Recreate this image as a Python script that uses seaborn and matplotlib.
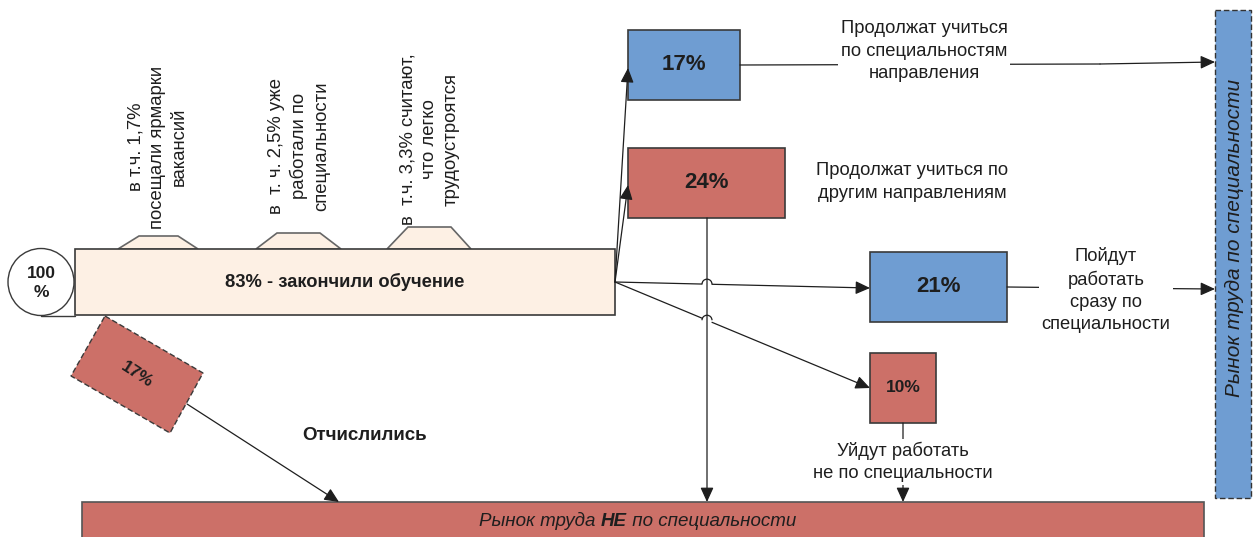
import matplotlib
matplotlib.use("Agg")
import matplotlib.pyplot as plt
import seaborn as sns
from matplotlib.patches import Rectangle, Polygon, Ellipse, Arc

# values (shares of students, %)
start_share = 100
finished_share = 83
dropped_share = 17
study_same_share = 17
study_other_share = 24
work_spec_share = 21
work_other_share = 10

finished_notes = [
    "в т.ч. 1,7%\nпосещали ярмарки\nвакансий",
    "в  т. ч. 2,5% уже\nработали по\nспециальности",
    "в  т.ч. 3,3% считают,\nчто легко\nтрудоустроятся",
]
flow_labels = [
    "Продолжат учиться\nпо специальностям\nнаправления",
    "Продолжат учиться по\nдругим направлениям",
    "Пойдут\nработать\nсразу по\nспециальности",
    "Уйдут работать\nне по специальности",
]
dropped_label = "Отчислились"
market_spec = "Рынок труда по специальности"
market_other = ["Рынок труда ", "НЕ", " по специальности"]

sns.set_theme(style="white")
plt.rcParams["font.family"] = ["Liberation Sans", "DejaVu Sans"]

blue = "#6f9dd2"
red = "#cc7068"
peach = "#fdf0e4"
edge = "#3a3a3a"
ink = "#1e1e1e"

fig = plt.figure(figsize=(12.53, 5.37), dpi=100)
ax = fig.add_axes([0, 0, 1, 1])
ax.set_xlim(0, 1253)
ax.set_ylim(537, 0)
ax.axis("off")

head = "-|>,head_length=0.55,head_width=0.25"


def box(x0, y0, x1, y1, color, text=None, size=16, ls="-", lw=1.2):
    ax.add_patch(Rectangle((x0, y0), x1 - x0, y1 - y0, facecolor=color,
                           edgecolor=edge, lw=lw, ls=ls, zorder=2))
    if text is not None:
        ax.text((x0 + x1) / 2, (y0 + y1) / 2, text, ha="center", va="center",
                fontsize=size, fontweight="bold", color=ink, zorder=3)


def arrow(p0, p1):
    ax.annotate("", xy=p1, xytext=p0, zorder=4,
                arrowprops=dict(arrowstyle=head, color=ink, lw=0.9,
                                mutation_scale=16, shrinkA=0, shrinkB=0))


def hop_arrow(p0, p1, xc, r=5):
    # line with a small hop where it crosses the vertical line at xc
    t = (xc - p0[0]) / (p1[0] - p0[0])
    yc = p0[1] + t * (p1[1] - p0[1])
    dy = (p1[1] - p0[1]) / (p1[0] - p0[0]) * r
    ax.plot([p0[0], xc - r], [p0[1], yc - dy], color=ink, lw=0.9, zorder=4)
    ax.add_patch(Arc((xc, yc), 2 * r, 2 * r, theta1=180, theta2=360,
                     color=ink, lw=0.9, zorder=4))
    arrow((xc + r, yc + dy), p1)


def label(x, y, text, size=13.2, spacing=1.4, **kw):
    ax.text(x, y, text, ha="center", va="center", fontsize=size, color=ink,
            linespacing=spacing, zorder=5, **kw)


white = dict(facecolor="white", edgecolor="none", pad=2)

# start circle and the "finished" bar with its notes
for (bx0, bx1, tx0, tx1, ty) in [(118, 198, 139, 178, 236),
                                  (256, 341, 277, 320, 233),
                                  (387, 471, 408, 451, 227)]:
    ax.add_patch(Polygon([(bx0, 249), (tx0, ty), (tx1, ty), (bx1, 249)],
                         closed=True, facecolor=peach, edgecolor="#666666",
                         lw=1.2, zorder=1))
box(75, 249, 615, 315, peach, f"{finished_share}% - закончили обучение", size=13.2)
ax.plot([41, 75], [315.5, 315.5], color=edge, lw=1.0, zorder=1)
ax.add_patch(Ellipse((41, 282), 66, 67, facecolor="white", edgecolor=edge,
                     lw=1.0, zorder=2))
label(41, 283, f"{start_share}\n%", size=12.5, spacing=1.35, fontweight="bold")

for x, y, note in zip([158, 299, 430], [147, 146, 139], finished_notes):
    label(x, y, note, size=13.3, spacing=1.35, rotation=90)

# destination boxes
box(628, 30, 740, 100, blue, f"{study_same_share}%")
box(628, 148, 785, 218, red, f"{study_other_share}%")
box(870, 252, 1007, 322, blue, f"{work_spec_share}%")
box(870, 353, 936, 423, red, f"{work_other_share}%", size=12.5)

# flows out of the finished bar
src = (615, 282)
arrow(src, (628, 68))
arrow(src, (628, 185))
hop_arrow(src, (870, 288), 707)
hop_arrow(src, (870, 388), 707)

# vertical drop from 24% box to the non-specialty market
arrow((707, 218), (707, 502))

# continuing flows with captions
ax.plot([740, 1100], [65, 64], color=ink, lw=0.9, zorder=4)
arrow((1100, 64), (1215, 62))
label(924, 51, flow_labels[0], bbox=white)
label(912, 182, flow_labels[1])
ax.plot([1007, 1100], [287, 288], color=ink, lw=0.9, zorder=4)
arrow((1100, 288), (1215, 289))
label(1106, 290, flow_labels[2], bbox=white)
arrow((903, 423), (903, 502))
label(903, 462, flow_labels[3], bbox=white)

# dropped out
ax.add_patch(Polygon([(105, 316), (203, 373), (170, 433), (71, 376)], closed=True,
                     facecolor=red, edgecolor=edge, lw=1.0, ls=(0, (4, 2)), zorder=2))
ax.text(137, 375, f"{dropped_share}%", ha="center", va="center", rotation=-33,
        fontsize=12.5, fontweight="bold", color=ink, zorder=3)
arrow((187, 404), (339, 502))
label(365, 435, dropped_label, size=13.5, fontweight="bold")

# labour markets
ax.add_patch(Rectangle((1215, 10), 36, 488, facecolor=blue, edgecolor="#333333",
                       lw=1.0, ls=(0, (4, 2)), zorder=2))
ax.text(1234, 238, market_spec, ha="center", va="center", rotation=90,
        fontsize=15, style="italic", color=ink, zorder=3)

ax.add_patch(Rectangle((82, 502), 1122, 40, facecolor=red, edgecolor="#555555",
                       lw=1.2, zorder=2))
he = ax.text(614, 521, market_other[1], ha="center", va="center", fontsize=13.5,
             style="italic", fontweight="bold", color=ink, zorder=3)
ax.annotate(market_other[0], xy=(0, 0.5), xycoords=he, ha="right", va="center",
            fontsize=13.5, style="italic", color=ink, zorder=3)
ax.annotate(market_other[2], xy=(1, 0.5), xycoords=he, ha="left", va="center",
            fontsize=13.5, style="italic", color=ink, zorder=3)

fig.savefig("out.png", dpi=100, facecolor="white")
